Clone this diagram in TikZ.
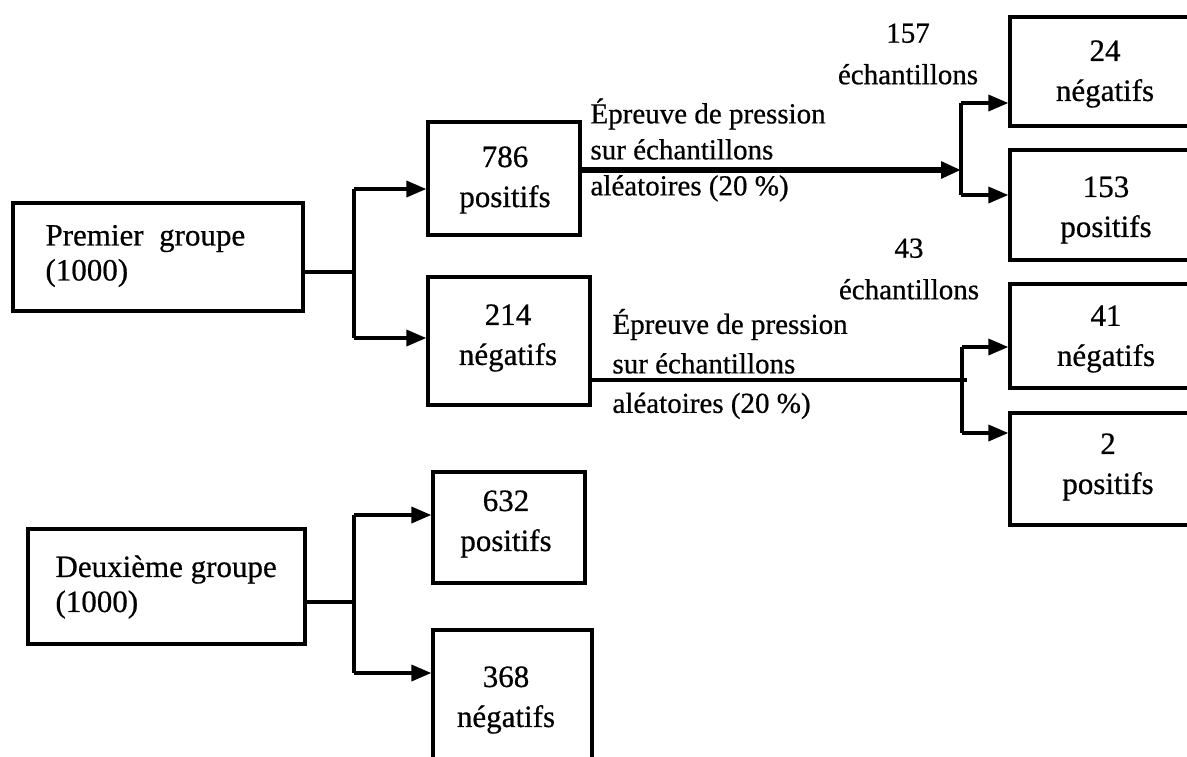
\documentclass[tikz,border=0pt]{standalone}
\usepackage{fontspec}
\setmainfont{Liberation Serif}[FakeBold=0.6]
\usetikzlibrary{arrows.meta,fit}
\newcommand\boxfont{\fontsize{12.4}{16}\selectfont}
\newcommand\edgefont{\fontsize{11.6}{14.4}\selectfont}
\begin{document}
\begin{tikzpicture}[x=0.4pt,y=-0.4pt,
  box/.style={draw, line width=1.4pt, inner sep=0pt},
  lbl/.style={inner sep=0pt, align=center, font=\boxfont},
  lbll/.style={inner sep=0pt, align=left, font=\boxfont},
  elbl/.style={inner sep=0pt, align=left, font=\edgefont},
  conn/.style={line width=1.25pt},
  arr/.style={conn, -{Triangle[length=8pt,width=6.5pt]}},
  thickarr/.style={line width=2.3pt, -{Triangle[length=8pt,width=6.5pt]}}]
\clip (0,0) rectangle (1187,756);
\fill[white] (0,0) rectangle (1187,756);

% left boxes
\node[box, fit={(13,203) (303,311)}] (pg) {};
\node[lbll, anchor=west] (pgt) at (45,256) {Premier\ \ groupe\\[-2pt](1000)};
\node[box, fit={(28,529) (305,644)}] (dg) {};
\node[lbll, anchor=west] (dgt) at (55,587) {Deuxième groupe\\[-2pt](1000)};

% middle boxes
\node[box, fit={(428,122) (580,235)}] (p786) {};
\node[lbl] (p786t) at (505,180) {786\\positifs};
\node[box, fit={(428,277) (590,405)}] (n214) {};
\node[lbl] (n214t) at (508,338) {214\\négatifs};
\node[box, fit={(433,472) (585,583)}] (p632) {};
\node[lbl] (p632t) at (506,524) {632\\positifs};
\node[box, fit={(433,630) (592,780)}] (n368) {};
\node[lbl] (n368t) at (506,700) {368\\négatifs};

% right boxes
\node[box, fit={(1010,17) (1210,126)}] (n24) {};
\node[lbl] (n24t) at (1105,74) {24\\négatifs};
\node[box, fit={(1010,150) (1210,260)}] (p153) {};
\node[lbl] (p153t) at (1106,210) {153\\positifs};
\node[box, fit={(1010,284) (1210,388)}] (n41) {};
\node[lbl] (n41t) at (1106,339) {41\\négatifs};
\node[box, fit={(1010,413) (1210,525)}] (p2) {};
\node[lbl] (p2t) at (1108,467) {2\\positifs};

% junctions
\coordinate (j1) at (354,272);
\coordinate (j1t) at (354,189);
\coordinate (j1b) at (354,338);
\coordinate (j2) at (354,602);
\coordinate (j2t) at (354,515);
\coordinate (j2b) at (354,673);
\coordinate (k1) at (961,170);
\coordinate (k1t) at (961,103);
\coordinate (k1b) at (961,195);
\coordinate (k2) at (962,380);
\coordinate (k2t) at (962,347);
\coordinate (k2b) at (962,433);

\draw[conn] (pg.east |- j1) -- (j1);
\draw[conn] (j1t) -- (j1b);
\draw[arr] (j1t) -- (j1t -| p786.west);
\draw[arr] (j1b) -- (j1b -| n214.west);

\draw[conn] (dg.east |- j2) -- (j2);
\draw[conn] (j2t) -- (j2b);
\draw[arr] (j2t) -- (j2t -| p632.west);
\draw[arr] (j2b) -- (j2b -| n368.west);

\draw[thickarr] (k1 -| p786.east) -- (k1);
\draw[conn] (k1t) -- (k1b);
\draw[arr] (k1t) -- (k1t -| n24.west);
\draw[arr] (k1b) -- (k1b -| p153.west);

\draw[conn] (k2 -| n214.east) -- ([xshift=2pt]k2);
\draw[conn] (k2t) -- (k2b);
\draw[arr] (k2t) -- (k2t -| n41.west);
\draw[arr] (k2b) -- (k2b -| p2.west);

% edge labels
\node[elbl, anchor=west] (e1) at (590,150) {Épreuve de pression\\sur échantillons\\aléatoires (20 \%)};
\node[elbl, anchor=west, font=\fontsize{11.6}{15.8}\selectfont] (e2) at (612,364) {Épreuve de pression\\sur échantillons\\aléatoires (20 \%)};
\node[elbl, align=center, font=\fontsize{11.6}{16.6}\selectfont] (s157) at (908,54) {157\\échantillons};
\node[elbl, align=center, font=\fontsize{11.6}{16.6}\selectfont] (s43) at (909,269) {43\\échantillons};
\end{tikzpicture}
\end{document}
